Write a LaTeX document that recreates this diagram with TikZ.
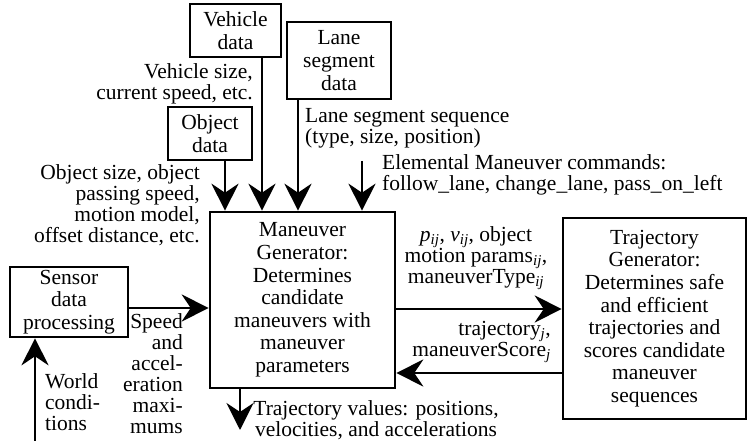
\documentclass[tikz,border=0pt]{standalone}
\usepackage{fontspec}
\setmainfont{Liberation Serif}
\usetikzlibrary{arrows.meta,calc}
\newcommand{\itsub}[2]{\textit{#1}\textsubscript{\textit{#2}}}
\newcommand{\rmsub}[2]{#1\textsubscript{\textit{#2}}}
\tikzset{
  box/.style={draw, line width=2.6pt, inner sep=0pt, align=center,
    font=\fontsize{21.5}{22.6}\selectfont},
  lbl/.style={inner sep=0pt, font=\fontsize{21.5}{21}\selectfont},
  arr/.style={line width=2.4pt, -{Stealth[length=27pt,width=27pt,inset=9pt]}},
}
\begin{document}
\begin{tikzpicture}[x=1pt,y=-1pt]
\useasboundingbox (0,0) rectangle (748,441);
% boxes
\node[box, minimum width=91pt, minimum height=53pt] (veh) at (235.5,30.5) {Vehicle\\data};
\node[box, minimum width=104pt, minimum height=77pt] (lane) at (339,60.5) {Lane\\segment\\data};
\node[box, minimum width=84pt, minimum height=53pt] (obj) at (210,133.5) {Object\\data};
\node[box, minimum width=185pt, minimum height=176pt] (main) at (302.5,300)
  {Maneuver\\Generator:\\Determines\\candidate\\maneuvers with\\maneuver\\parameters};
\node[box, minimum width=183pt, minimum height=201pt] (traj) at (654.5,318.5)
  {Trajectory\\Generator:\\Determines safe\\and efficient\\trajectories and\\scores candidate\\maneuver\\sequences};
\node[box, minimum width=118pt, minimum height=70pt] (sens) at (69,302) {Sensor\\data\\processing};
% helper coordinates
\coordinate (xo) at (225,0);
\coordinate (xv) at (262,0);
\coordinate (xl) at (298,0);
\coordinate (em) at (362,161);
\coordinate (ys) at (0,308);
\coordinate (yt1) at (0,309);
\coordinate (yt2) at (0,373);
\coordinate (wc) at (35,441);
\coordinate (tv) at (240,430);
% connectors
\draw[arr] (obj.south -| xo) -- (main.north -| xo);
\draw[arr] (veh.south -| xv) -- (main.north -| xv);
\draw[arr] (lane.south -| xl) -- (main.north -| xl);
\draw[arr] (em) -- (main.north -| em);
\draw[arr] (sens.east |- ys) -- (main.west |- ys);
\draw[arr] (wc) -- (sens.south -| wc);
\draw[arr] (main.east |- yt1) -- (traj.west |- yt1);
\draw[arr] (traj.west |- yt2) -- (main.east |- yt2);
\draw[arr] (main.south -| tv) -- (tv);
% labels
\node[lbl, anchor=north east, align=right] (lv) at (253,63) {Vehicle size,\\current speed, etc.};
\node[lbl, anchor=north east, align=right] (lo) at (200,164) {Object size, object\\passing speed,\\motion model,\\offset distance, etc.};
\node[lbl, anchor=north west, align=left] (ll) at (305,108) {Lane segment sequence\\(type, size, position)};
\node[lbl, anchor=north west, align=left] (le) at (382,154) {Elemental Maneuver commands:\\follow\_lane, change\_lane, pass\_on\_left};
\node[lbl, anchor=north, align=center] (lp) at (476,226) {\itsub{p}{ij}, \itsub{v}{ij}, object\\motion \rmsub{params}{ij},\\\rmsub{maneuverType}{ij}};
\node[lbl, anchor=north east, align=right] (lt) at (551,321) {\rmsub{trajectory}{j},\\\rmsub{maneuverScore}{j}};
\node[lbl, anchor=north east, align=right] (lsp) at (183,313) {Speed\\and\\accel-\\eration\\maxi-\\mums};
\node[lbl, anchor=north west, align=left] (lw) at (45,373) {World\\condi-\\tions};
\node[lbl, anchor=north, align=center] (ltv) at (376,400) {Trajectory values: positions,\\velocities, and accelerations};
\end{tikzpicture}
\end{document}
